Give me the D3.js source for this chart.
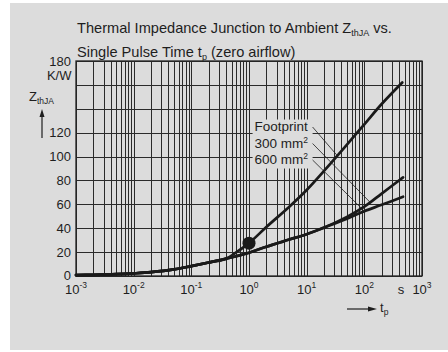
<!DOCTYPE html>
<html><head><meta charset="utf-8">
<script src="https://cdn.jsdelivr.net/npm/d3@7"></script>
<style>
html,body{margin:0;padding:0;background:#fff;}
svg{display:block;}
text{font-family:"Liberation Sans",Arial,Helvetica,sans-serif;fill:#1e1e1e;}
</style></head>
<body>
<svg id="chart" width="448" height="352"></svg>
<script>
// ---- data ----
const timeCommon = [0.001,0.002,0.005,0.01,0.02,0.05,0.1,0.2,0.4,1,2,5,10,20];
const lowerCommon = [0.8,1.0,1.5,2.2,3.2,5.5,8.3,11.3,14.5,19.5,24.5,30.5,35,40.5];
const timeFootprint = [0.001,0.002,0.005,0.01,0.02,0.05,0.1,0.2,0.4,0.6,1,2,5,10,20,50,100,200,455];
const zFootprint = [0.8,1.0,1.5,2.2,3.2,5.5,8.3,11.3,14.5,19.8,27.5,41,58,72,88,110,127,144,162];
const timeTail = [50,100,200,470];
const z300Tail = [49.5,58,69,82.6];
const z600Tail = [48,54.3,59.6,66.4];
const markerPoint = {t:1, z:27.5};
const xTickExponents = [-3,-2,-1,0,1,2,3];
const yTickValues = [0,20,40,60,80,100,120];
const yTopTick = 180;
const seriesLabels = ["Footprint","300 mm","600 mm"];

const svg = d3.select("#chart");
svg.append("rect").attr("x",10).attr("y",3).attr("width",438).attr("height",347).attr("fill","#dcdcdc");

const x = d3.scaleLog().domain([1e-3,1e3]).range([76,422]);
const y = d3.scaleLinear().domain([0,180]).range([276,61]);

const gridColor = "#2b2b2b";
const vVals = [];
for (let e=-3;e<3;e++) for (let k=1;k<10;k++) vVals.push(k*Math.pow(10,e));
vVals.push(1000);
const grid = svg.append("g");
grid.selectAll("line.v").data(vVals).join("line")
  .attr("x1",d=>Math.round(x(d))+0.5).attr("x2",d=>Math.round(x(d))+0.5)
  .attr("y1",y(180)).attr("y2",y(0))
  .attr("stroke",gridColor).attr("stroke-width",1);
grid.selectAll("line.h").data(d3.range(0,181,20)).join("line")
  .attr("x1",x(1e-3)).attr("x2",x(1e3))
  .attr("y1",d=>Math.round(y(d))+0.5).attr("y2",d=>Math.round(y(d))+0.5)
  .attr("stroke",gridColor).attr("stroke-width",1);
svg.append("rect").attr("x",x(1e-3)).attr("y",y(180)).attr("width",x(1e3)-x(1e-3)).attr("height",y(0)-y(180))
  .attr("fill","none").attr("stroke","#222").attr("stroke-width",1.3);

// label box covering grid
const lblX = x(1.25);
svg.append("rect").attr("x",lblX-2).attr("y",y(131)).attr("width",60).attr("height",49).attr("fill","#dcdcdc");

// curves
const line = d3.line().x(d=>x(d[0])).y(d=>y(d[1])).curve(d3.curveCatmullRom.alpha(0.5));
const footData = d3.zip(timeFootprint,zFootprint);
const d300 = d3.zip(timeCommon.concat(timeTail), lowerCommon.concat(z300Tail));
const d600 = d3.zip(timeCommon.concat(timeTail), lowerCommon.concat(z600Tail));
[d600,d300,footData].forEach(dd=>{
  svg.append("path").datum(dd).attr("d",line).attr("fill","none")
    .attr("stroke","#1a1a1a").attr("stroke-width",2.7).attr("stroke-linecap","round").attr("stroke-linejoin","round");
});
svg.append("circle").attr("cx",x(markerPoint.t)).attr("cy",y(markerPoint.z)).attr("r",6.5).attr("fill","#1a1a1a");

function zAt(data,t){
  const lt=Math.log10(t);
  for(let i=0;i<data.length-1;i++){
    const a=Math.log10(data[i][0]), b=Math.log10(data[i+1][0]);
    if(lt>=a && lt<=b){const f=(lt-a)/(b-a);return data[i][1]+f*(data[i+1][1]-data[i][1]);}
  }
  return data[data.length-1][1];
}
const lblFont = 13.5;
const baseY = [131,147.5,164];
seriesLabels.forEach((s,i)=>{
  const t = svg.append("text").attr("x",lblX).attr("y",baseY[i]).attr("font-size",lblFont);
  t.append("tspan").text(s);
  if(i>0) t.append("tspan").attr("dy",-5).attr("font-size",8.5).text("2");
});
const leaderT = [34,126,100];
const leaderData = [footData,d300,d600];
leaderT.forEach((tt,i)=>{
  svg.append("line").attr("x1",lblX+58).attr("y1",baseY[i]-4)
    .attr("x2",x(tt)).attr("y2",y(zAt(leaderData[i],tt)))
    .attr("stroke","#1e1e1e").attr("stroke-width",0.8);
});

const yFont=13;
svg.selectAll("text.yt").data(yTickValues).join("text")
  .attr("x",71).attr("y",d=>y(d)+4.5-(d===0?1:0)).attr("text-anchor","end").attr("font-size",yFont).text(d=>d);
svg.append("text").attr("x",71).attr("y",y(yTopTick)+4.5).attr("text-anchor","end").attr("font-size",yFont).text(yTopTick);
svg.append("text").attr("x",71.5).attr("y",80).attr("text-anchor","end").attr("font-size",yFont).text("K/W");
const zt = svg.append("text").attr("x",29).attr("y",101).attr("font-size",yFont);
zt.append("tspan").text("Z");
zt.append("tspan").attr("dy",3).attr("font-size",8.5).text("thJA");
svg.append("line").attr("x1",42).attr("x2",42).attr("y1",138).attr("y2",114).attr("stroke","#1e1e1e").attr("stroke-width",1.2);
svg.append("path").attr("d","M42,109 L39.5,117 L44.5,117 Z").attr("fill","#1e1e1e");

xTickExponents.forEach(e=>{
  const t = svg.append("text").attr("x",x(Math.pow(10,e))).attr("y",293.5).attr("text-anchor","middle").attr("font-size",yFont);
  t.append("tspan").text("10");
  t.append("tspan").attr("dy",-6).attr("font-size",8.5).text(e);
});
svg.append("text").attr("x",401).attr("y",293.5).attr("text-anchor","middle").attr("font-size",yFont).text("s");
svg.append("line").attr("x1",347).attr("x2",370).attr("y1",309).attr("y2",309).attr("stroke","#1e1e1e").attr("stroke-width",1.2);
svg.append("path").attr("d","M377,309 L368,306.5 L368,311.5 Z").attr("fill","#1e1e1e");
const tp = svg.append("text").attr("x",380).attr("y",312).attr("font-size",yFont);
tp.append("tspan").text("t");
tp.append("tspan").attr("dy",3).attr("font-size",8.5).text("p");

const tFont=14.6;
const t1 = svg.append("text").attr("x",77).attr("y",33).attr("font-size",tFont);
t1.append("tspan").text("Thermal Impedance Junction to Ambient  Z");
t1.append("tspan").attr("dy",3).attr("font-size",9).text("thJA");
t1.append("tspan").attr("dy",-3).text(" vs.");
const t2 = svg.append("text").attr("x",77).attr("y",56.5).attr("font-size",tFont);
t2.append("tspan").text("Single Pulse Time t");
t2.append("tspan").attr("dy",3).attr("font-size",9).text("p");
t2.append("tspan").attr("dy",-3).text(" (zero airflow)");
</script>
</body></html>
